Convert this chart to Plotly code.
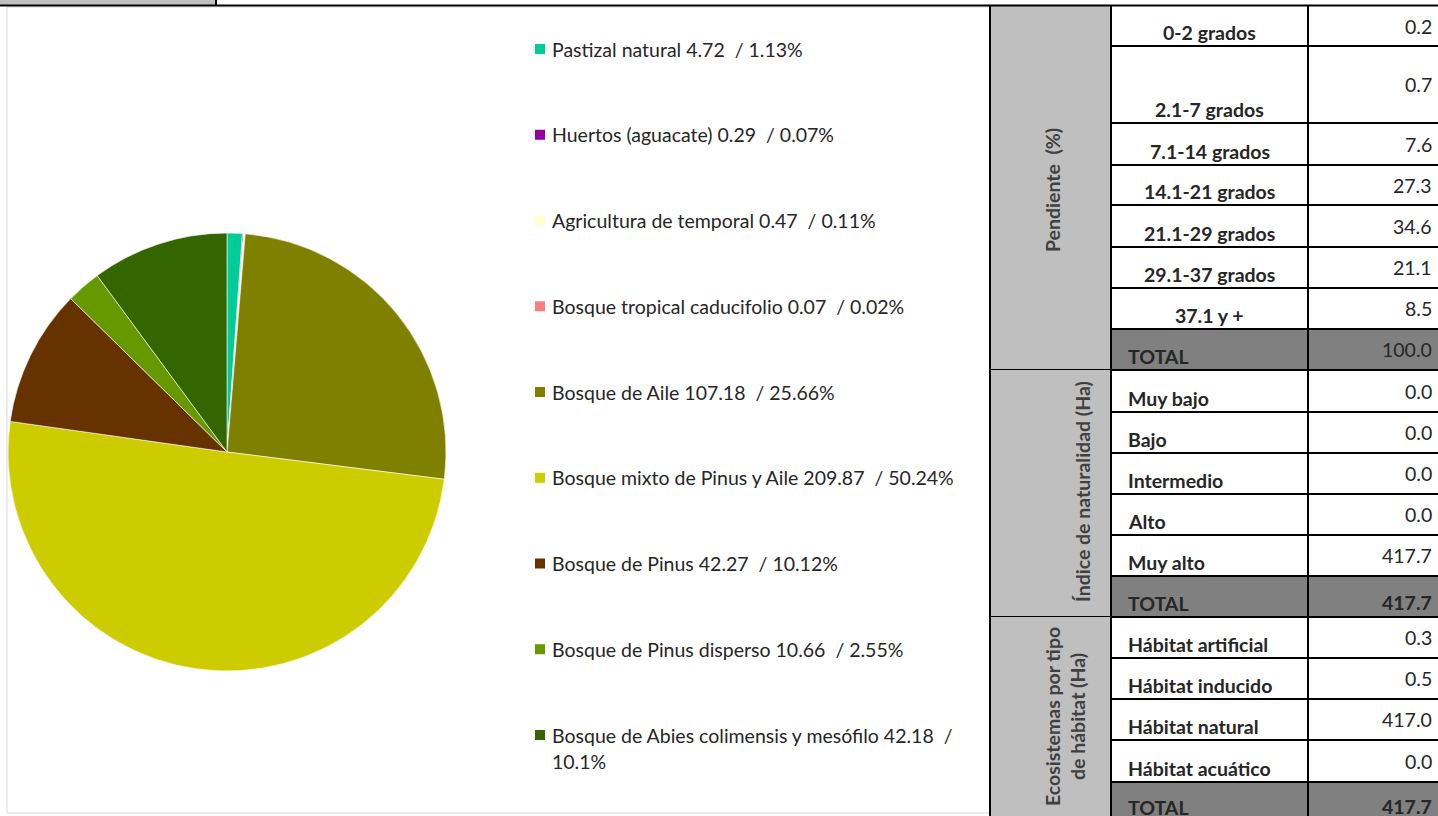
import plotly.graph_objects as go

W, H = 1438, 816

# Uso de suelo y vegetación (Ha) y porcentaje del total
uso_nombres = ["Pastizal natural", "Huertos (aguacate)", "Agricultura de temporal",
               "Bosque tropical caducifolio", "Bosque de Aile", "Bosque mixto de Pinus y Aile",
               "Bosque de Pinus", "Bosque de Pinus disperso",
               "Bosque de Abies colimensis y mesófilo"]
uso_ha = [4.72, 0.29, 0.47, 0.07, 107.18, 209.87, 42.27, 10.66, 42.18]
uso_pct = [1.13, 0.07, 0.11, 0.02, 25.66, 50.24, 10.12, 2.55, 10.1]
uso_colores = ["#00CC99", "#990099", "#FFFFCC", "#FF7C80", "#808000",
               "#CCCC00", "#663300", "#669900", "#336600"]

# Tabla de la derecha
pend_cats = ["0-2 grados", "2.1-7 grados", "7.1-14 grados", "14.1-21 grados",
             "21.1-29 grados", "29.1-37 grados", "37.1 y +"]
pend_vals = [0.2, 0.7, 7.6, 27.3, 34.6, 21.1, 8.5]
pend_total = 100.0

nat_cats = ["Muy bajo", "Bajo", "Intermedio", "Alto", "Muy alto"]
nat_vals = [0.0, 0.0, 0.0, 0.0, 417.7]
nat_total = 417.7

hab_cats = ["Hábitat artificial", "Hábitat inducido", "Hábitat natural", "Hábitat acuático"]
hab_vals = [0.3, 0.5, 417.0, 0.0]
hab_total = 417.7

FONT = "Lato, 'Liberation Sans', sans-serif"
TXT = "#262626"
FS = 19.5

fig = go.Figure()

# pie (pixel geometry -> paper domain)
cx, cy, r = 227, 452, 219
fig.add_trace(go.Pie(
    labels=uso_nombres, values=uso_ha, sort=False, direction="clockwise", rotation=0,
    marker=dict(colors=uso_colores, line=dict(color="white", width=0.6)),
    textinfo="none", showlegend=False,
    domain=dict(x=[(cx - r) / W, (cx + r) / W], y=[(H - cy - r) / H, (H - cy + r) / H]),
))

# legend built by hand so the spacing matches
leg_x, leg_y0, leg_step, line_h = 540, 49, 85.75, 26
leg_y = [leg_y0 + i * leg_step for i in range(len(uso_nombres))]
fig.add_trace(go.Scatter(
    x=[leg_x] * len(uso_nombres), y=leg_y, mode="markers",
    marker=dict(symbol="square", size=10, color=uso_colores, line=dict(width=0)),
    hoverinfo="skip", showlegend=False, xaxis="x", yaxis="y",
))

annotations = []
for name, ha, pct, y in zip(uso_nombres, uso_ha, uso_pct, leg_y):
    label = f"{name} {ha:.2f}  / {pct:g}%"
    lines = [label]
    if len(label) > 48:
        cut = label.rfind(" / ") + 2
        lines = [label[:cut], label[cut + 1:]]
    for k, ln in enumerate(lines):
        annotations.append(dict(x=leg_x + 10, y=y + k * line_h, xref="x", yref="y",
                                text=ln, showarrow=False, xanchor="left", yanchor="middle",
                                font=dict(family=FONT, size=FS, color=TXT)))

shapes = []


def rect(x0, y0, x1, y1, fill="rgba(0,0,0,0)", line="rgba(0,0,0,0)", lw=0):
    shapes.append(dict(type="rect", xref="x", yref="y", x0=x0, y0=y0, x1=x1, y1=y1,
                       fillcolor=fill, line=dict(color=line, width=lw)))


def seg(x0, y0, x1, y1, color="black", lw=2):
    shapes.append(dict(type="line", xref="x", yref="y", x0=x0, y0=y0, x1=x1, y1=y1,
                       line=dict(color=color, width=lw)))


# top strip of the sheet
rect(0, 0, 215, 5, fill="#BFBFBF")
seg(216, 0, 216, 5)
# chart area border
rect(7, 7, 990, 813, line="#D9D9D9", lw=1)

# table geometry
c0, c1, c2, c3 = 990, 1111, 1308, 1445
groups = [
    dict(title="Pendiente  (%)", cats=pend_cats, vals=pend_vals, total=pend_total,
         ys=[6, 46, 123, 165, 205, 247, 288, 329, 370], center=True, bold_total=False,
         tx=1052, ty=190),
    dict(title="Índice de naturalidad (Ha)", cats=nat_cats, vals=nat_vals, total=nat_total,
         ys=[370, 412, 453, 494, 535, 576, 617], center=False, bold_total=True,
         tx=1082, ty=492),
    dict(title="Ecosistemas por tipo<br>de hábitat (Ha)", cats=hab_cats, vals=hab_vals,
         total=hab_total, ys=[617, 658, 699, 740, 782, 821], center=False, bold_total=True,
         tx=1065, ty=717),
]

for g in groups:
    ys = g["ys"]
    rect(c0, ys[0], c1, ys[-1], fill="#BFBFBF")
    rect(c1, ys[-2], c3, ys[-1], fill="#808080")
    annotations.append(dict(x=g["tx"], y=g["ty"], xref="x", yref="y", text=f"<b>{g['title']}</b>",
                            textangle=-90, showarrow=False, xanchor="center", yanchor="middle",
                            font=dict(family=FONT, size=FS, color="#404040")))
    cats = g["cats"] + ["TOTAL"]
    vals = g["vals"] + [g["total"]]
    for i, (cat, v) in enumerate(zip(cats, vals)):
        top, bot = ys[i], ys[i + 1]
        is_total = cat == "TOTAL"
        centered = g["center"] and not is_total
        annotations.append(dict(x=(c1 + c2) / 2 if centered else c1 + 15, y=bot - 14,
                                xref="x", yref="y", text=f"<b>{cat}</b>", showarrow=False,
                                xanchor="center" if centered else "left", yanchor="middle",
                                font=dict(family=FONT, size=FS, color=TXT)))
        vb = is_total and g["bold_total"]
        annotations.append(dict(x=1434, y=bot - 15 if vb else (top + bot) / 2,
                                xref="x", yref="y",
                                text=f"<b>{v:.1f}</b>" if vb else f"{v:.1f}", showarrow=False,
                                xanchor="right", yanchor="middle",
                                font=dict(family=FONT, size=FS, color=TXT)))
        seg(c1, bot, c3, bot)
    seg(c0, ys[-1], c3, ys[-1])

# vertical rules and the top rule
for x in (c0, c1, c2):
    seg(x, 5.5, x, H + 10)
seg(0, 5.5, W, 5.5)

fig.update_layout(
    width=W, height=H, margin=dict(l=0, r=0, t=0, b=0),
    paper_bgcolor="white", plot_bgcolor="white",
    xaxis=dict(range=[0, W], visible=False, fixedrange=True),
    yaxis=dict(range=[H, 0], visible=False, fixedrange=True),
    shapes=shapes, annotations=annotations,
    font=dict(family=FONT, color=TXT),
)

fig.write_html("out.html", config={"displayModeBar": False},
               post_script="document.body.style.margin='0';document.body.style.overflow='hidden';")
